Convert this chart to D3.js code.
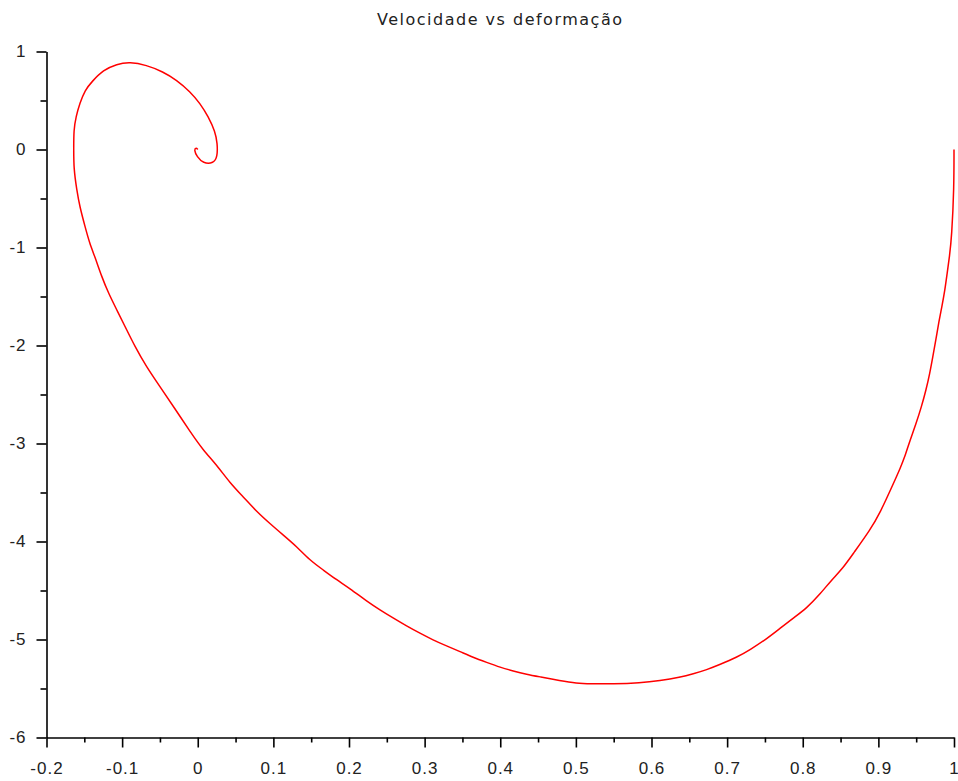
<!DOCTYPE html>
<html>
<head>
<meta charset="utf-8">
<script src="https://cdn.jsdelivr.net/npm/d3@7"></script>
<style>
  body { margin: 0; background: #fff; }
  svg { display: block; }
</style>
</head>
<body>
<svg></svg>
<script>
// deformação (x) and velocidade (y), in drawing order
let deformacao = [1.000, 1.000, 0.997, 0.994, 0.991, 0.988, 0.984, 0.980, 0.976, 0.972,
  0.968, 0.963, 0.957, 0.950, 0.942, 0.935, 0.929, 0.920, 0.902, 0.889,
  0.867, 0.853, 0.838, 0.823, 0.805, 0.787, 0.770, 0.752, 0.730, 0.713,
  0.690, 0.673, 0.655, 0.638, 0.611, 0.585, 0.549, 0.519, 0.501, 0.479,
  0.452, 0.435, 0.417, 0.400, 0.382, 0.364, 0.347, 0.329, 0.311, 0.294,
  0.276, 0.259, 0.241, 0.223, 0.201, 0.184, 0.166, 0.148, 0.131, 0.113,
  0.096, 0.078, 0.060, 0.043, 0.025, 0.007, -0.010, -0.032, -0.050, -0.068,
  -0.083, -0.096, -0.107, -0.118, -0.127, -0.136, -0.143, -0.149, -0.156, -0.160,
  -0.164, -0.164, -0.164, -0.161, -0.156, -0.149, -0.140, -0.125, -0.107, -0.090,
  -0.068, -0.046, -0.028, -0.010, 0.003, 0.014, 0.023, 0.026, 0.026, 0.021,
  0.007, -0.001, -0.005, -0.002, 0.000]
let velocidade = [0.000, -0.390, -0.890, -1.094, -1.260, -1.434, -1.604, -1.757, -1.944, -2.114,
  -2.284, -2.454, -2.624, -2.794, -2.964, -3.135, -3.250, -3.406, -3.712, -3.883,
  -4.120, -4.273, -4.393, -4.536, -4.682, -4.784, -4.886, -4.995, -5.106, -5.181,
  -5.257, -5.309, -5.351, -5.385, -5.421, -5.444, -5.454, -5.452, -5.447, -5.420,
  -5.380, -5.355, -5.321, -5.284, -5.233, -5.182, -5.124, -5.066, -5.005, -4.937,
  -4.862, -4.784, -4.699, -4.607, -4.478, -4.393, -4.291, -4.189, -4.053, -3.934,
  -3.821, -3.696, -3.543, -3.406, -3.219, -3.066, -2.880, -2.624, -2.420, -2.216,
  -2.012, -1.808, -1.638, -1.467, -1.298, -1.094, -0.957, -0.788, -0.584, -0.413,
  -0.189, 0.000, 0.199, 0.335, 0.471, 0.607, 0.692, 0.811, 0.872, 0.893,
  0.862, 0.794, 0.709, 0.590, 0.471, 0.335, 0.182, 0.063, -0.073, -0.141,
  -0.141, -0.073, -0.005, 0.022, 0.000]

let xTicks = [-0.2, -0.1, 0, 0.1, 0.2, 0.3, 0.4, 0.5, 0.6, 0.7, 0.8, 0.9, 1]
let yTicks = [-6, -5, -4, -3, -2, -1, 0, 1]
let title = "Velocidade vs deformação"

let width = 958
let height = 781
let plotLeft = 46.5, plotRight = 954, plotTop = 51.5, plotBottom = 737.5

let svg = d3.select('svg')
svg.attr('width', width).attr('height', height)

let xScale = d3.scaleLinear().domain([-0.2, 1]).range([plotLeft, plotRight])
let yScale = d3.scaleLinear().domain([-6, 1]).range([plotBottom, plotTop])

// minor ticks half way between the labelled ones
let xMinor = d3.range(xTicks.length - 1).map(i => (xTicks[i] + xTicks[i + 1]) / 2)
let yMinor = d3.range(yTicks.length - 1).map(i => (yTicks[i] + yTicks[i + 1]) / 2)

let fmt = d => String(+d.toFixed(1))

svg.append('g')
  .attr('transform', 'translate(0,' + plotBottom + ')')
  .call(d3.axisBottom(xScale).tickValues(xTicks).tickFormat(fmt)
    .tickSize(10).tickSizeOuter(0).tickPadding(14))
svg.append('g')
  .attr('transform', 'translate(0,' + plotBottom + ')')
  .call(d3.axisBottom(xScale).tickValues(xMinor).tickFormat('')
    .tickSize(5).tickSizeOuter(0))
  .select('.domain').remove()

svg.append('g')
  .attr('transform', 'translate(' + plotLeft + ',0)')
  .call(d3.axisLeft(yScale).tickValues(yTicks).tickFormat(fmt)
    .tickSize(10).tickSizeOuter(0).tickPadding(10))
svg.append('g')
  .attr('transform', 'translate(' + plotLeft + ',0)')
  .call(d3.axisLeft(yScale).tickValues(yMinor).tickFormat('')
    .tickSize(6).tickSizeOuter(0))
  .select('.domain').remove()

svg.selectAll('.domain').attr('stroke', '#000').attr('stroke-width', 1.6)
svg.selectAll('.tick line').attr('stroke', '#000').attr('stroke-width', 1.6)
svg.selectAll('.tick text')
  .attr('fill', '#222')
  .style('font-family', 'Liberation Sans, Arial, sans-serif')
  .style('font-size', '17px')
  .style('letter-spacing', '1px')

// the curve (B-spline through the read points, it evens out reading jitter)
let points = deformacao.map((d, i) => [d, velocidade[i]])
let line = d3.line()
  .x(d => xScale(d[0]))
  .y(d => yScale(d[1]))
  .curve(d3.curveBasis)

svg.append('path')
  .datum(points)
  .attr('d', line)
  .attr('fill', 'none')
  .attr('stroke', '#ff0000')
  .attr('stroke-width', 1.5)

svg.append('text')
  .attr('x', (plotLeft + plotRight) / 2)
  .attr('y', 25)
  .attr('text-anchor', 'middle')
  .attr('fill', '#222')
  .style('font-family', 'DejaVu Sans, sans-serif')
  .style('font-size', '16px')
  .style('letter-spacing', '1.5px')
  .text(title)
</script>
</body>
</html>
